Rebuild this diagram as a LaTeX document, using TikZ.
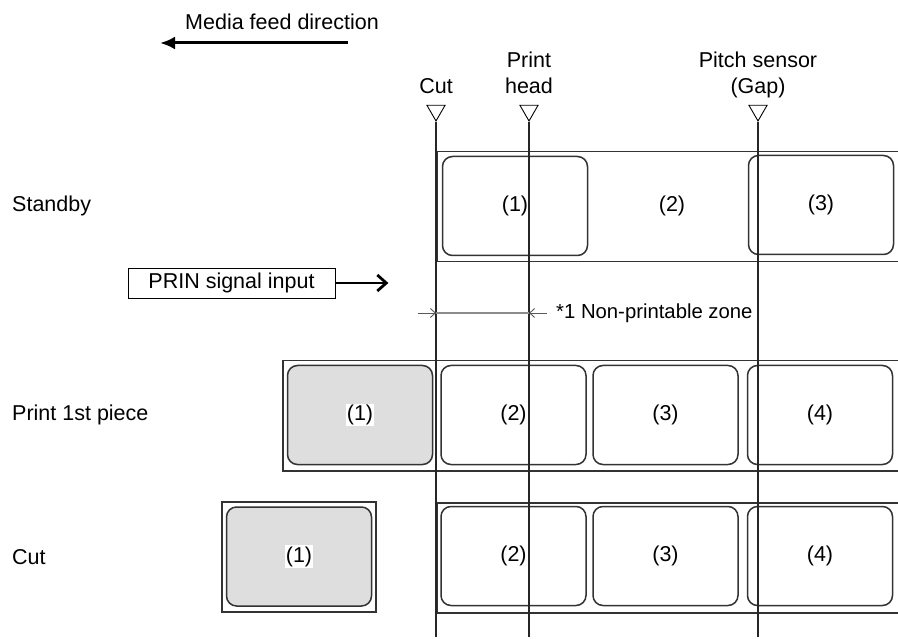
\documentclass[tikz,border=0pt]{standalone}
\usepackage{fontspec}
\setmainfont{Liberation Sans}
\usetikzlibrary{positioning, shapes.geometric, arrows.meta}

\begin{document}
\begin{tikzpicture}[
    x=1pt, y=-1pt,
    font=\fontsize{21.5}{26}\selectfont,
    strip/.style={
        draw=black!80,
        line width=1.5pt,
        anchor=north west,
        inner sep=0pt,
        minimum width=640pt,
        minimum height=110pt,
    },
    piece/.style={
        draw=black!80,
        line width=1.5pt,
        rounded corners=10pt,
        minimum width=145pt,
        minimum height=99pt,
        inner sep=0pt,
    },
    printed/.style={
        piece,
        fill=black!13,
    },
    sensor/.style={
        draw,
        regular polygon,
        regular polygon sides=3,
        shape border rotate=180,
        minimum size=21pt,
        inner sep=0pt,
        line width=0.9pt,
    },
    marktext/.style={
        align=center,
        inner sep=0pt,
        text depth=0pt,
    },
    rowname/.style={
        anchor=west,
        inner sep=0pt,
    },
    sensorline/.style={
        draw=black!85,
        line width=1.2pt,
    },
    feedarrow/.style={
        -{Latex[length=15pt, width=13pt]},
        line width=3pt,
    },
    prinarrow/.style={
        -{Straight Barb[length=9pt, width=16pt]},
        line width=2.8pt,
    },
    zonearrow/.style={
        -{Straight Barb[length=5pt, width=9pt]},
        draw=black!65,
        line width=0.9pt,
    },
]

    \useasboundingbox (0,0) rectangle (898,639);
    \clip (0,0) rectangle (898,639);

    % Feed direction
    \node (feed) at (282,22) {Media feed direction};
    \coordinate (feedstart) at (348,43);
    \coordinate (feedend) at (160,43);

    % Media strips
    \node[strip] (standbystrip) at (436,151) {};
    \node[strip] (printstrip) at (282,360) {};
    \node[strip] (cutstrip) at (436,502) {};
    \node[draw=black!80, line width=1.5pt, minimum width=154pt, minimum height=110pt, inner sep=0pt] (cutpiece) at (299,557) {};

    % Labels
    \node[piece] (sb1) at (515,206) {(1)};
    \node (sb2) at (672,206) {(2)};
    \node[piece] (sb3) at (821,205) {(3)};

    \node[printed, label={[fill=white, inner sep=1pt]center:(1)}] (pr1) at (360,415) {};
    \node[piece] (pr2) at (513.5,415) {(2)};
    \node[piece] (pr3) at (665.5,415) {(3)};
    \node[piece] (pr4) at (820,415) {(4)};

    \node[printed, label={[fill=white, inner sep=1pt]center:(1)}] (ct1) at (299,556.5) {};
    \node[piece] (ct2) at (513.5,556) {(2)};
    \node[piece] (ct3) at (665.5,556) {(3)};
    \node[piece] (ct4) at (820,556) {(4)};

    % Row names
    \node[rowname] (standby) at (12,206) {Standby};
    \node[rowname] (printfirst) at (12,415) {Print 1st piece};
    \node[rowname] (cutrow) at (12,557) {Cut};

    % Sensors
    \node[sensor] (cutmark) at (436,110.5) {};
    \node[sensor] (headmark) at (529,110.5) {};
    \node[sensor] (gapmark) at (758,110.5) {};
    \node[marktext, above=11pt of cutmark] (cuttext) {Cut};
    \node[marktext, above=11pt of headmark] (headtext) {Print\\head};
    \node[marktext, above=11pt of gapmark] (gaptext) {Pitch sensor\\(Gap)};
    \coordinate (cutend) at (436,637);
    \coordinate (headend) at (529,637);
    \coordinate (gapend) at (758,637);

    % PRIN signal
    \node[draw, line width=0.8pt, minimum width=207pt, minimum height=30pt, inner sep=0pt] (prin) at (231.5,283) {PRIN signal input};
    \coordinate[right=53pt of prin] (prinend);

    % Non-printable zone
    \coordinate (zonecut) at (436,313);
    \coordinate (zonehead) at (529,313);
    \coordinate[left=18pt of zonecut] (zoneleft);
    \coordinate[right=18pt of zonehead] (zoneright);
    \node[anchor=west, inner sep=0pt, right=9pt of zoneright, font=\fontsize{20.3}{24}\selectfont] (zonetext) {*1 Non-printable zone};

    % Draw arrows
    \draw[feedarrow] (feedstart) -- (feedend);
    \draw[prinarrow] (prin) -- (prinend);
    \draw[sensorline] (cutmark.south) -- (cutend);
    \draw[sensorline] (headmark.south) -- (headend);
    \draw[sensorline] (gapmark.south) -- (gapend);
    \draw[draw=black!45, line width=1.4pt] (zonecut) -- (zonehead);
    \draw[zonearrow] (zoneleft) -- (zonecut);
    \draw[zonearrow] (zoneright) -- (zonehead);

\end{tikzpicture}
\end{document}
